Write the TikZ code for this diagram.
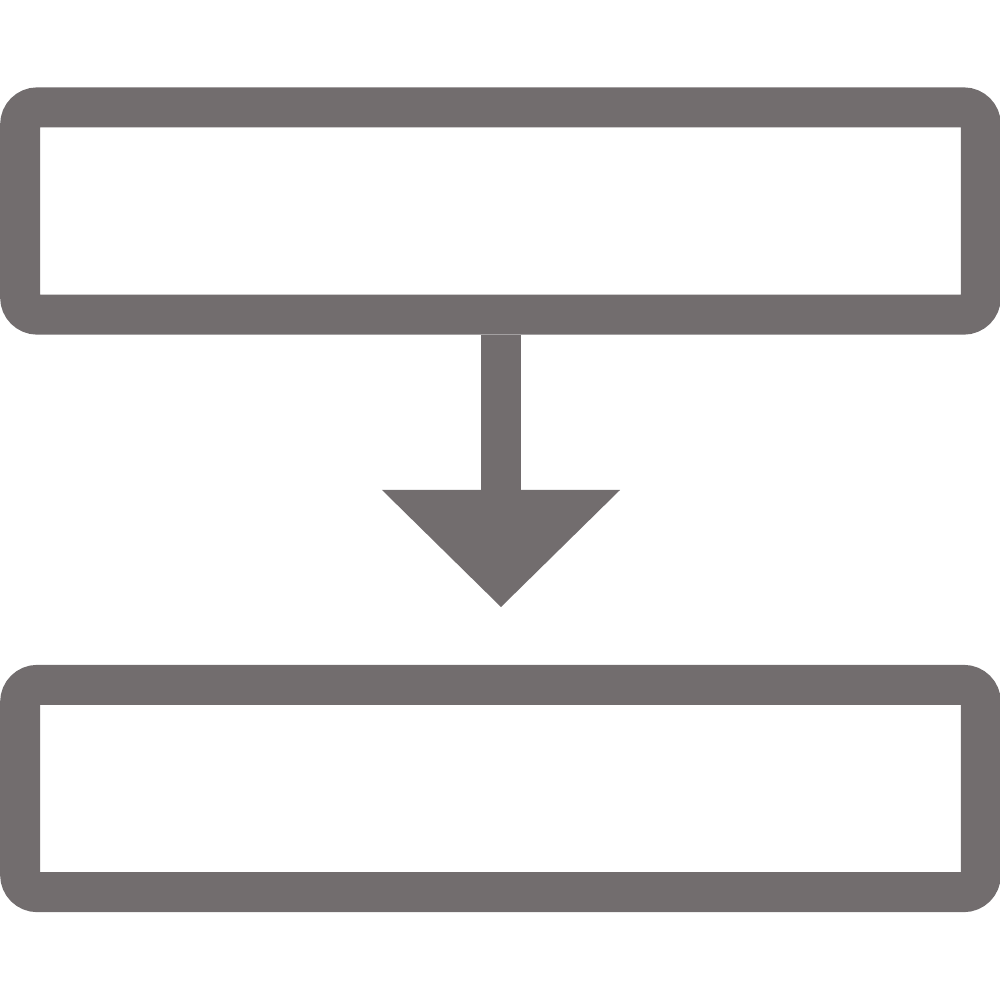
\documentclass[tikz,border=0pt]{standalone}
\usetikzlibrary{arrows.meta}
\definecolor{iconGrey}{RGB}{114,109,110}
\begin{document}
\begin{tikzpicture}[x=0.01cm,y=-0.01cm,
  boxstyle/.style={draw=iconGrey,line width=0.40cm,rounded corners=0.17cm,
    rectangle,inner sep=0pt,minimum width=9.60cm,minimum height=2.07cm,fill=white},
  connector/.style={draw=iconGrey,line width=0.40cm,line cap=butt,
    -{Triangle[width=2.38cm,length=1.17cm,line width=0pt,fill=iconGrey]}}]
\useasboundingbox (0,0) rectangle (1000,1000);
\node[boxstyle] (top) at (500.5,211) {};
\node[boxstyle] (bottom) at (500.5,788.5) {};
\coordinate (tip) at (501,607);
\draw[connector] (top.south -| tip) -- (tip);
\end{tikzpicture}
\end{document}
